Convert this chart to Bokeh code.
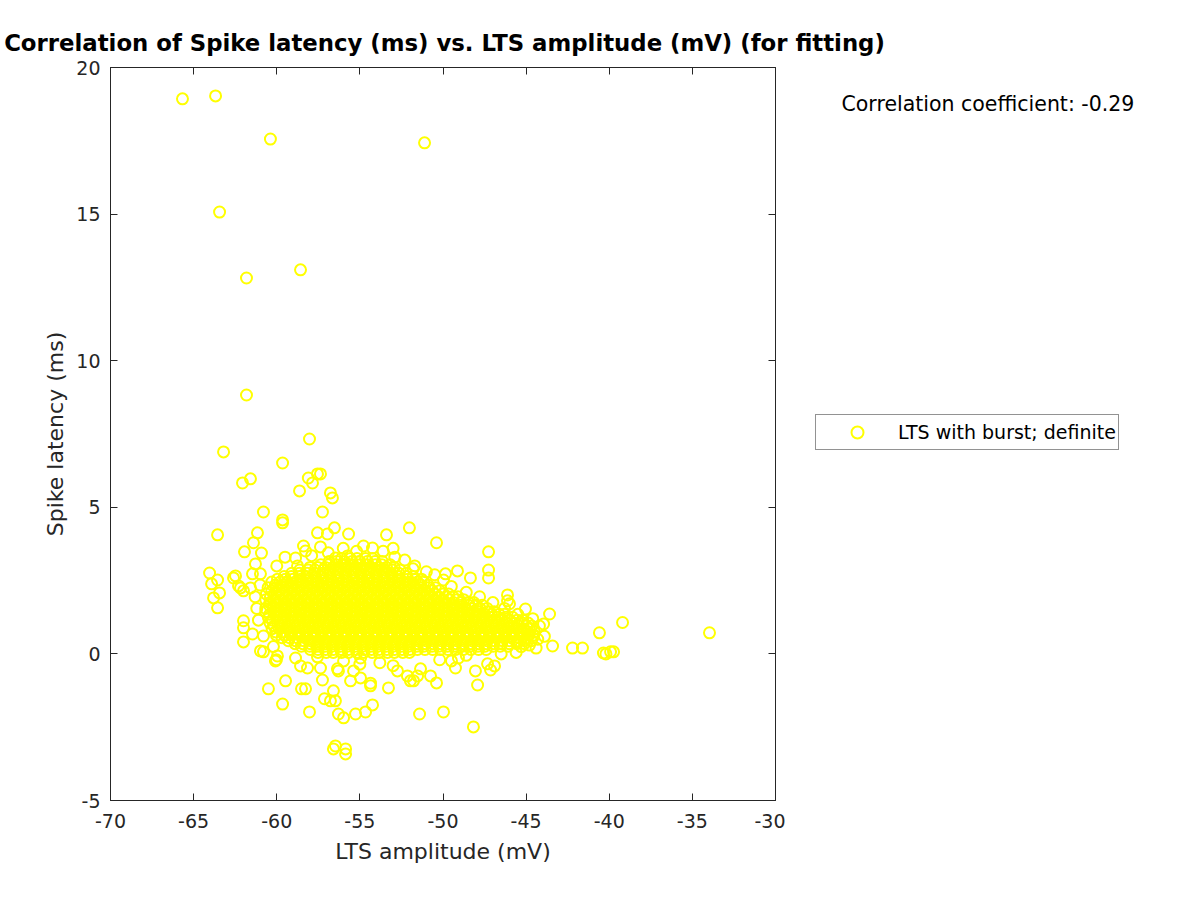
from bokeh.plotting import figure
from bokeh.layouts import row, column
from bokeh.models import (Range1d, LinearAxis, FixedTicker, Legend, LegendItem,
                          Label, ColumnDataSource)
from bokeh.embed import file_html
from bokeh.resources import INLINE

# ---------------- data ----------------
title_text = "Correlation of Spike latency (ms) vs. LTS amplitude (mV) (for fitting)"
x_label = "LTS amplitude (mV)"
y_label = "Spike latency (ms)"
series_name = "LTS with burst; definite"
corr_text = "Correlation coefficient: -0.29"

x_ticks = [-70, -65, -60, -55, -50, -45, -40, -35, -30]
y_ticks = [-5, 0, 5, 10, 15, 20]

# dense core of the cloud, read row by row (latency of the row, amplitudes in it)
core_latency_rows = [3.25, 3.04, 2.86, 2.64, 2.45, 2.26, 2.04, 1.85, 1.66,
                     1.44, 1.25, 1.05, 0.86, 0.64, 0.45, 0.26, 0.05]
core_amplitude_rows = [
    [-56.1, -55.58, -55.17, -54.66, -54.23],
    [-57.35, -56.88, -56.44, -55.93, -55.52, -55.0, -54.6, -54.08, -53.67, -53.18],
    [-58.62, -58.1, -57.7, -57.18, -56.77, -56.26, -55.82, -55.33, -54.9, -54.4,
     -53.97, -53.48, -53.04, -52.58],
    [-59.55, -59.12, -58.6, -58.2, -57.68, -57.27, -56.76, -56.34, -55.83, -55.42,
     -54.9, -54.5, -53.98, -53.57, -53.08, -52.67, -52.18, -51.8],
    [-60.3, -59.8, -59.4, -58.88, -58.47, -57.96, -57.54, -57.03, -56.62, -56.1,
     -55.7, -55.18, -54.77, -54.26, -53.84, -53.36, -52.92, -52.43, -52.02, -51.53,
     -51.15],
    [-60.52, -60.04, -59.6, -59.1, -58.68, -58.18, -57.76, -57.26, -56.84, -56.34,
     -55.92, -55.42, -55.0, -54.5, -54.08, -53.58, -53.16, -52.66, -52.24, -51.74,
     -51.32, -50.84, -50.46],
    [-60.62, -60.1, -59.7, -59.2, -58.78, -58.28, -57.86, -57.36, -56.94, -56.44,
     -56.02, -55.52, -55.1, -54.6, -54.18, -53.68, -53.26, -52.76, -52.34, -51.84,
     -51.42, -50.92, -50.5, -50.03, -49.66],
    [-60.66, -60.18, -59.76, -59.26, -58.84, -58.34, -57.92, -57.42, -57.0, -56.5,
     -56.08, -55.58, -55.16, -54.66, -54.24, -53.74, -53.32, -52.82, -52.4, -51.9,
     -51.48, -50.98, -50.56, -50.06, -49.64, -49.16, -48.76],
    [-60.44, -60.0, -59.5, -59.08, -58.58, -58.16, -57.66, -57.24, -56.74, -56.32,
     -55.82, -55.4, -54.9, -54.48, -53.98, -53.56, -53.06, -52.64, -52.14, -51.72,
     -51.22, -50.8, -50.3, -49.88, -49.38, -48.96, -48.46, -48.04, -47.64],
    [-60.66, -60.18, -59.76, -59.26, -58.84, -58.34, -57.92, -57.42, -57.0, -56.5,
     -56.08, -55.58, -55.16, -54.66, -54.24, -53.74, -53.32, -52.82, -52.4, -51.9,
     -51.48, -50.98, -50.56, -50.06, -49.64, -49.14, -48.72, -48.22, -47.8, -47.3,
     -46.92],
    [-60.5, -60.02, -59.6, -59.1, -58.68, -58.18, -57.76, -57.26, -56.84, -56.34,
     -55.92, -55.42, -55.0, -54.5, -54.08, -53.58, -53.16, -52.66, -52.24, -51.74,
     -51.32, -50.82, -50.4, -49.9, -49.48, -48.98, -48.56, -48.06, -47.64, -47.14,
     -46.72, -46.22, -45.82],
    [-60.4, -59.94, -59.52, -59.02, -58.6, -58.1, -57.68, -57.18, -56.76, -56.26,
     -55.84, -55.34, -54.92, -54.42, -54.0, -53.5, -53.08, -52.58, -52.16, -51.66,
     -51.24, -50.74, -50.32, -49.82, -49.4, -48.9, -48.48, -47.98, -47.56, -47.06,
     -46.64, -46.14, -45.72, -45.24, -44.88],
    [-60.28, -59.86, -59.36, -58.94, -58.44, -58.02, -57.52, -57.1, -56.6, -56.18,
     -55.68, -55.26, -54.76, -54.34, -53.84, -53.42, -52.92, -52.5, -52.0, -51.58,
     -51.08, -50.66, -50.16, -49.74, -49.24, -48.82, -48.32, -47.9, -47.4, -46.98,
     -46.48, -46.06, -45.56, -45.14, -44.7],
    [-60.02, -59.54, -59.12, -58.62, -58.2, -57.7, -57.28, -56.78, -56.36, -55.86,
     -55.44, -54.94, -54.52, -54.02, -53.6, -53.1, -52.68, -52.18, -51.76, -51.26,
     -50.84, -50.34, -49.92, -49.42, -49.0, -48.5, -48.08, -47.58, -47.16, -46.66,
     -46.24, -45.74, -45.32, -44.84, -44.56],
    [-59.3, -58.88, -58.38, -57.96, -57.46, -57.04, -56.54, -56.12, -55.62, -55.2,
     -54.7, -54.28, -53.78, -53.36, -52.86, -52.44, -51.94, -51.52, -51.02, -50.6,
     -50.1, -49.68, -49.18, -48.76, -48.26, -47.84, -47.34, -46.92, -46.42, -46.0,
     -45.5, -45.08, -44.68],
    [-58.52, -58.02, -57.6, -57.1, -56.68, -56.18, -55.76, -55.26, -54.84, -54.34,
     -53.92, -53.42, -53.0, -52.5, -52.08, -51.58, -51.16, -50.66, -50.24, -49.74,
     -49.32, -48.82, -48.4, -47.9, -47.48, -46.98, -46.56, -46.1],
    [-57.52, -57.02, -56.6, -56.1, -55.68, -55.18, -54.76, -54.26, -53.84, -53.34,
     -52.92, -52.42, -52.02],
]

# second, interleaved set of rows of the dense core
core_latency_rows_b = [3.15, 2.95, 2.75, 2.55, 2.35, 2.15, 1.95, 1.75, 1.55,
                       1.35, 1.15, 0.95, 0.75, 0.55, 0.35, 0.15]
core_amplitude_rows_b = [
    [-56.85, -56.39, -55.93, -55.47, -55.01, -54.55, -54.09, -53.65],
    [-58.0, -57.54, -57.08, -56.62, -56.16, -55.7, -55.24, -54.78, -54.32, -53.86,
     -53.4, -52.94],
    [-59.1, -58.64, -58.18, -57.72, -57.26, -56.8, -56.34, -55.88, -55.42, -54.96,
     -54.5, -54.04, -53.58, -53.12, -52.66, -52.22],
    [-59.95, -59.48, -59.02, -58.56, -58.1, -57.64, -57.18, -56.72, -56.26, -55.8,
     -55.34, -54.88, -54.42, -53.96, -53.5, -53.04, -52.58, -52.12, -51.66, -51.3],
    [-60.08, -59.62, -59.16, -58.7, -58.24, -57.78, -57.32, -56.86, -56.4, -55.94,
     -55.48, -55.02, -54.56, -54.1, -53.64, -53.18, -52.72, -52.26, -51.8, -51.34,
     -50.9],
    [-60.3, -59.84, -59.38, -58.92, -58.46, -58.0, -57.54, -57.08, -56.62, -56.16,
     -55.7, -55.24, -54.78, -54.32, -53.86, -53.4, -52.94, -52.48, -52.02, -51.56,
     -51.1, -50.64, -50.2],
    [-60.38, -59.92, -59.46, -59.0, -58.54, -58.08, -57.62, -57.16, -56.7, -56.24,
     -55.78, -55.32, -54.86, -54.4, -53.94, -53.48, -53.02, -52.56, -52.1, -51.64,
     -51.18, -50.72, -50.26, -49.8, -49.4, -49.1],
    [-60.42, -59.96, -59.5, -59.04, -58.58, -58.12, -57.66, -57.2, -56.74, -56.28,
     -55.82, -55.36, -54.9, -54.44, -53.98, -53.52, -53.06, -52.6, -52.14, -51.68,
     -51.22, -50.76, -50.3, -49.84, -49.38, -48.92, -48.46, -48.15],
    [-60.66, -60.2, -59.74, -59.28, -58.82, -58.36, -57.9, -57.44, -56.98, -56.52,
     -56.06, -55.6, -55.14, -54.68, -54.22, -53.76, -53.3, -52.84, -52.38, -51.92,
     -51.46, -51.0, -50.54, -50.08, -49.62, -49.16, -48.7, -48.24, -47.78, -47.35],
    [-60.42, -59.96, -59.5, -59.04, -58.58, -58.12, -57.66, -57.2, -56.74, -56.28,
     -55.82, -55.36, -54.9, -54.44, -53.98, -53.52, -53.06, -52.6, -52.14, -51.68,
     -51.22, -50.76, -50.3, -49.84, -49.38, -48.92, -48.46, -48.0, -47.54, -47.08,
     -46.62, -46.3],
    [-60.26, -59.8, -59.34, -58.88, -58.42, -57.96, -57.5, -57.04, -56.58, -56.12,
     -55.66, -55.2, -54.74, -54.28, -53.82, -53.36, -52.9, -52.44, -51.98, -51.52,
     -51.06, -50.6, -50.14, -49.68, -49.22, -48.76, -48.3, -47.84, -47.38, -46.92,
     -46.46, -46.0, -45.54, -45.2],
    [-60.16, -59.7, -59.24, -58.78, -58.32, -57.86, -57.4, -56.94, -56.48, -56.02,
     -55.56, -55.1, -54.64, -54.18, -53.72, -53.26, -52.8, -52.34, -51.88, -51.42,
     -50.96, -50.5, -50.04, -49.58, -49.12, -48.66, -48.2, -47.74, -47.28, -46.82,
     -46.36, -45.9, -45.44, -44.98, -44.66],
    [-60.06, -59.6, -59.14, -58.68, -58.22, -57.76, -57.3, -56.84, -56.38, -55.92,
     -55.46, -55.0, -54.54, -54.08, -53.62, -53.16, -52.7, -52.24, -51.78, -51.32,
     -50.86, -50.4, -49.94, -49.48, -49.02, -48.56, -48.1, -47.64, -47.18, -46.72,
     -46.26, -45.8, -45.34, -44.88, -44.5],
    [-59.68, -59.22, -58.76, -58.3, -57.84, -57.38, -56.92, -56.46, -56.0, -55.54,
     -55.08, -54.62, -54.16, -53.7, -53.24, -52.78, -52.32, -51.86, -51.4, -50.94,
     -50.48, -50.02, -49.56, -49.1, -48.64, -48.18, -47.72, -47.26, -46.8, -46.34,
     -45.88, -45.42, -44.96, -44.6],
    [-58.9, -58.44, -57.98, -57.52, -57.06, -56.6, -56.14, -55.68, -55.22, -54.76,
     -54.3, -53.84, -53.38, -52.92, -52.46, -52.0, -51.54, -51.08, -50.62, -50.16,
     -49.7, -49.24, -48.78, -48.32, -47.86, -47.4, -46.94, -46.48, -46.02, -45.56,
     -45.1],
    [-57.98, -57.52, -57.06, -56.6, -56.14, -55.68, -55.22, -54.76, -54.3, -53.84,
     -53.38, -52.92, -52.46, -52.0, -51.54, -51.08, -50.62, -50.16, -49.7, -49.24,
     -48.78, -48.32, -47.86, -47.4],
]

# isolated points (amplitude mV, latency ms)
outliers_high = [
    (-65.67, 18.93), (-63.68, 19.03), (-60.38, 17.56), (-51.11, 17.43),
    (-63.44, 15.07), (-61.82, 12.82), (-58.57, 13.10), (-61.82, 8.83),
    (-63.20, 6.89), (-58.03, 7.33), (-59.65, 6.51), (-61.58, 5.97),
    (-62.06, 5.83), (-58.63, 5.56), (-58.10, 6.00), (-57.85, 5.83),
    (-57.55, 6.14), (-57.37, 6.14), (-56.77, 5.49), (-56.65, 5.32),
    (-60.80, 4.84), (-59.65, 4.57), (-57.25, 4.84), (-63.56, 4.06),
    (-61.16, 4.13), (-57.55, 4.13), (-56.53, 4.30), (-55.68, 4.09),
    (-56.95, 4.09), (-53.40, 4.06), (-52.02, 4.30), (-50.39, 3.79),
    (-47.26, 3.48), (-59.65, 4.47), (-61.40, 3.79), (-61.94, 3.48),
    (-60.92, 3.44),
]
fringe_left = [
    (-64.04, 2.76), (-63.92, 2.39), (-63.56, 2.52), (-63.80, 1.91),
    (-63.44, 2.08), (-63.56, 1.57), (-62.48, 2.66), (-62.18, 2.25),
    (-61.28, 3.07), (-61.46, 2.73), (-60.98, 2.73), (-62.60, 2.59),
    (-62.30, 2.32), (-62.00, 2.15), (-61.58, 2.25), (-62.00, 1.13),
    (-62.00, 0.89), (-61.46, 0.68), (-60.80, 0.61), (-62.00, 0.41),
    (-60.80, 0.07), (-60.98, 0.10), (-60.02, -0.20), (-60.08, -0.24),
    (-59.96, -0.07), (-58.87, -0.14), (-58.57, -0.41), (-57.55, -0.10),
    (-57.37, -0.48), (-58.15, -0.48), (-56.35, -0.51), (-55.98, -0.24),
    (-55.38, -0.58), (-54.96, -0.14), (-54.96, -0.82), (-61.2, 1.55),
    (-61.3, 1.95), (-61.1, 1.15), (-61.0, 2.35), (-60.2, 0.25),
]
fringe_top = [
    (-58.39, 3.68), (-58.27, 3.51), (-57.37, 3.65), (-56.47, 3.27),
    (-55.74, 3.34), (-54.78, 3.68), (-54.24, 3.61), (-58.87, 3.27),
    (-58.75, 3.00), (-60.00, 3.00), (-59.50, 3.30), (-56.00, 3.60),
    (-55.20, 3.50), (-53.60, 3.50), (-52.90, 3.30), (-52.30, 3.20),
    (-51.70, 3.00), (-51.00, 2.80), (-50.50, 2.70), (-53.00, 3.60),
    (-51.80, 2.90), (-49.85, 2.73), (-49.97, 2.52), (-49.13, 2.83),
    (-48.35, 2.59), (-49.50, 2.30), (-48.60, 2.10), (-47.80, 1.95),
    (-47.00, 1.75), (-46.30, 1.55), (-45.50, 1.35), (-44.60, 1.20),
    (-44.20, 0.95), (-57.9, 3.35), (-56.9, 3.45),
]
outliers_low = [
    (-60.50, -1.19), (-59.65, -1.71), (-59.47, -0.92), (-58.51, -1.19),
    (-58.27, -1.19), (-58.03, -1.98), (-57.25, -0.89), (-57.13, -1.53),
    (-56.77, -1.60), (-56.29, -2.05), (-55.98, -2.18), (-56.59, -3.24),
    (-55.86, -3.41), (-56.47, -3.14), (-55.86, -3.24), (-54.24, -1.74),
    (-55.26, -2.05), (-54.66, -1.98), (-56.59, -1.26), (-56.47, -1.60),
    (-56.29, -0.58), (-55.56, -0.92), (-54.36, -1.00), (-53.28, -1.16),
    (-51.96, -0.92), (-52.74, -0.58), (-52.14, -0.75), (-51.53, -0.75),
    (-51.41, -2.05), (-49.97, -1.98), (-48.17, -2.49), (-47.92, -1.06),
    (-50.39, -0.99), (-50.75, -0.75), (-51.77, -0.92), (-51.35, -0.51),
    (-49.49, -0.24), (-49.07, -0.14), (-49.25, -0.48), (-48.05, -0.58),
    (-47.32, -0.34), (-46.90, -0.41), (-47.14, -0.55), (-53.80, -0.30),
    (-53.00, -0.40), (-55.00, -0.35), (-54.36, -1.09), (-48.6, -0.05),
    (-46.5, 0.00), (-45.6, 0.05), (-50.2, -0.2),
]
fringe_right = [
    (-47.26, 2.86), (-47.26, 2.59), (-46.12, 2.01), (-46.12, 1.81),
    (-46.00, 1.71), (-45.04, 1.53), (-43.59, 1.36), (-43.95, 1.02),
    (-43.41, 0.27), (-44.30, 0.50), (-44.80, 0.30), (-45.30, 0.25),
    (-43.90, 0.60), (-44.40, 0.20),
]
tail = [
    (-39.20, 1.07), (-40.59, 0.72), (-33.97, 0.72), (-42.21, 0.20),
    (-41.61, 0.20), (-40.35, 0.03), (-39.92, 0.07), (-39.74, 0.07),
    (-40.20, 0.00),
]

# ---------------- assemble ----------------
amp, lat = [], []
for lat_rows, amp_rows in ((core_latency_rows, core_amplitude_rows),
                           (core_latency_rows_b, core_amplitude_rows_b)):
    for row_lat, row_amps in zip(lat_rows, amp_rows):
        for a in row_amps:
            amp.append(a)
            lat.append(row_lat)
for group in (fringe_left, fringe_top, fringe_right, outliers_low, outliers_high, tail):
    for a, l in group:
        amp.append(a)
        lat.append(l)
src = ColumnDataSource(dict(amp=amp, lat=lat))

AX = "#262626"
FONT = "DejaVu Sans"
MARKER = dict(marker="circle", size=11, fill_color=None, line_color="#ffff00",
              line_width=2)
HEAD_H = 56


def blank_figure(width, height):
    f = figure(width=width, height=height, x_range=Range1d(0, 1), y_range=Range1d(0, 1),
               min_border=0, output_backend="svg", toolbar_location=None,
               x_axis_location=None, y_axis_location=None)
    f.grid.visible = False
    f.outline_line_color = None
    f.background_fill_color = "white"
    f.border_fill_color = "white"
    return f


# ---------------- title strip ----------------
head = blank_figure(1184, HEAD_H)
head.add_layout(Label(x=444, y=HEAD_H - 42.6, x_units="screen", y_units="screen",
                      text=title_text, text_font=FONT, text_font_size="22.8px",
                      text_font_style="bold", text_color="black",
                      text_align="center", text_baseline="middle"))

# ---------------- main axes ----------------
p = figure(frame_width=665, frame_height=733,
           min_border_left=110, min_border_right=10,
           min_border_top=67 - HEAD_H, min_border_bottom=84,
           x_range=Range1d(-70, -30), y_range=Range1d(-5, 20),
           output_backend="svg", toolbar_location=None,
           x_axis_label=x_label, y_axis_label=y_label)
p.background_fill_color = "white"
p.border_fill_color = "white"
p.grid.visible = False
p.outline_line_color = AX
p.outline_line_width = 1

bottom_axis = p.below[0]
left_axis = p.left[0]

p.scatter(x="amp", y="lat", source=src, **MARKER)

top_axis = LinearAxis()
right_axis = LinearAxis()
p.add_layout(top_axis, "above")
p.add_layout(right_axis, "right")

for ax in (bottom_axis, top_axis):
    ax.ticker = FixedTicker(ticks=x_ticks)
for ax in (left_axis, right_axis):
    ax.ticker = FixedTicker(ticks=y_ticks)

for ax in (bottom_axis, left_axis, top_axis, right_axis):
    ax.axis_line_color = AX
    ax.major_tick_line_color = AX
    ax.major_tick_in = 7
    ax.major_tick_out = 0
    ax.minor_tick_line_color = None
    ax.major_label_text_font = FONT
    ax.major_label_text_font_size = "19px"
    ax.major_label_text_color = AX
    ax.axis_label_text_font = FONT
    ax.axis_label_text_font_size = "22px"
    ax.axis_label_text_font_style = "normal"
    ax.axis_label_text_color = AX

bottom_axis.major_label_overrides = {t: str(t) for t in x_ticks}
left_axis.major_label_overrides = {t: str(t) for t in y_ticks}
bottom_axis.major_label_standoff = 13
left_axis.major_label_standoff = 10
bottom_axis.axis_label_standoff = 8
left_axis.axis_label_standoff = 5
for ax in (top_axis, right_axis):
    ax.major_label_text_font_size = "0px"
    ax.major_label_standoff = 0
    ax.major_label_text_color = None

# ---------------- side panel (legend and correlation text) ----------------
side = blank_figure(399, 884 - HEAD_H)
# legend key: same series and style; its points fall outside this panel's ranges
key = side.scatter(x="amp", y="lat", source=src, **MARKER)

legend = Legend(items=[LegendItem(label=series_name, renderers=[key], index=0)],
                location=(30, 350))
legend.border_line_color = AX
legend.border_line_width = 1
legend.background_fill_color = "white"
legend.background_fill_alpha = 1
legend.label_text_font = FONT
legend.label_text_font_size = "19px"
legend.label_text_color = "black"
legend.glyph_width = 78
legend.glyph_height = 30
legend.label_standoff = 2
legend.padding = 2
legend.margin = 0
legend.spacing = 0
side.add_layout(legend)

corr = Label(x=56, y=697, x_units="screen", y_units="screen", text=corr_text,
             text_font=FONT, text_font_size="20.5px", text_color="black",
             text_align="left", text_baseline="middle")
side.add_layout(corr)

layout = column(head, row(p, side))
open("out.html", "w").write(file_html(layout, INLINE))
